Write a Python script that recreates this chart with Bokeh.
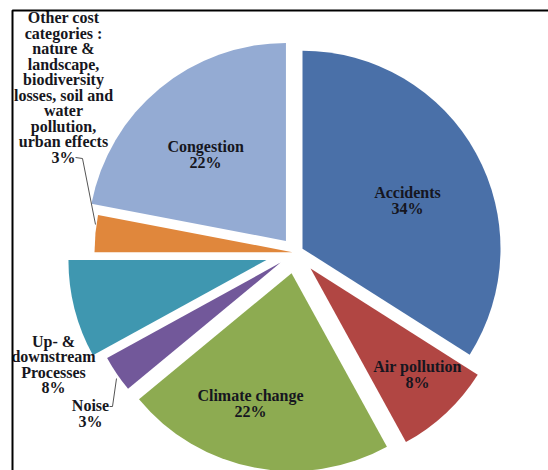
import math
from bokeh.plotting import figure
from bokeh.models import Range1d, ColumnDataSource
from bokeh.core.properties import value
from bokeh.embed import file_html
from bokeh.resources import INLINE

# ---- data ----
categories = ["Accidents", "Air pollution", "Climate change", "Noise",
              "Up- &\ndownstream\nProcesses",
              "Other cost\ncategories :\nnature &\nlandscape,\nbiodiversity\nlosses, soil and\nwater\npollution,\nurban effects",
              "Congestion"]
shares = [34, 8, 22, 3, 8, 3, 22]

# ---- styles ----
colors = ["#4a70a8", "#b14643", "#8dab51", "#72589a", "#3f97b0", "#e0873c", "#94abd3"]
explode = [8, 22, 21, 18, 30, 3, 15]                     # px offset of each slice
label_r = [0.583, 0.76, 0.69, None, None, None, 0.596]   # inside labels: fraction of radius
label_da = [-4.2, 2.1, -6.7, 0, 0, 0, 3.3]               # angle tweak of inside labels (deg)
outside_pos = {3: (90, 413), 4: (53, 364), 5: (63, 87)}  # screen px for outside labels

W, H = 548, 470
CX, CY = 295, 252   # screen centre
R = 198

def sy(y):
    return H - y

p = figure(width=W, height=H, x_range=Range1d(0, W), y_range=Range1d(0, H),
           output_backend="svg", toolbar_location=None, min_border=0)
p.axis.visible = False
p.grid.visible = False
p.outline_line_color = None
p.background_fill_color = "white"

total = sum(shares)
cum = 0
xs, ys, starts, ends = [], [], [], []
lx, ly, ltxt = [], [], []
for i, s in enumerate(shares):
    a0 = 90 - 360 * (cum + s) / total
    a1 = 90 - 360 * cum / total
    mid = math.radians((a0 + a1) / 2)
    cx = CX + explode[i] * math.cos(mid)
    cy = sy(CY) + explode[i] * math.sin(mid)
    xs.append(cx); ys.append(cy)
    starts.append(math.radians(a0)); ends.append(math.radians(a1))
    txt = f"{categories[i]}\n{s}%"
    if label_r[i] is not None:
        m2 = mid + math.radians(label_da[i])
        lx.append(cx + label_r[i] * R * math.cos(m2))
        ly.append(cy + label_r[i] * R * math.sin(m2))
    else:
        px, py = outside_pos[i]
        lx.append(px); ly.append(sy(py))
    ltxt.append(txt)
    cum += s

src = ColumnDataSource(dict(x=xs, y=ys, start=starts, end=ends, color=colors))
p.wedge(x="x", y="y", radius=R, start_angle="start", end_angle="end",
        fill_color="color", line_color=None, source=src)

# leader lines
p.line(x=[75, 82, 95], y=[sy(157), sy(158), sy(224)], line_color="#555555", line_width=1)
p.line(x=[109, 112, 116], y=[sy(406), sy(406), sy(378)], line_color="#555555", line_width=1)

lsrc = ColumnDataSource(dict(x=lx, y=ly, text=ltxt))
p.text(x="x", y="y", text="text", source=lsrc, text_align="center",
       text_baseline="middle", text_font=value("Liberation Serif"),
       text_font_style="bold", text_font_size="16px", text_color="#161620",
       text_line_height=0.91)

# frame
p.line(x=[12, 12, W], y=[0, sy(10), sy(10)], line_color="black", line_width=2)

open("out.html", "w").write(file_html(p, INLINE))
